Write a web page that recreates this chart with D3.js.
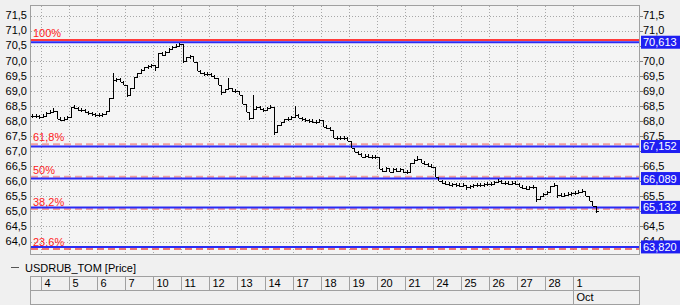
<!DOCTYPE html>
<html><head><meta charset="utf-8">
<script src="https://cdn.jsdelivr.net/npm/d3@7"></script>
<style>
html,body{margin:0;padding:0;background:#f0f0f0;}
svg{display:block;font-family:"Liberation Sans",Arial,sans-serif;}
</style></head><body>
<svg id="c" width="680" height="305"></svg>
<script>
// ---------- DATA ----------
const dayLabels = ["4","5","6","7","10","11","12","13","14","17","18","19","20","21","24","25","26","27","28","1"];
const monthLabels = [{day:19, text:"Oct"}];
const yTickValues = [64,64.5,65,65.5,66,66.5,67,67.5,68,68.5,69,69.5,70,70.5,71,71.5];
const seriesName = "USDRUB_TOM [Price]";
// closes of intraday bars for the partial day before Sep 4
const preCloses = [68.16, 68.15, 68.14];
// closes of intraday bars per trading day
const dayCloses = [
 [68.18, 68.28, 68.30, 68.32, 68.06, 68.04, 68.08, 68.12],
 [68.48, 68.42, 68.36, 68.38, 68.30, 68.26, 68.22, 68.20],
 [68.20, 68.22, 68.32, 68.75, 69.35, 69.40, 69.30, 69.20],
 [68.85, 69.10, 69.45, 69.60, 69.70, 69.78, 69.82, 69.85],
 [69.78, 70.25, 70.20, 70.30, 70.40, 70.45, 70.50, 70.55],
 [70.00, 70.12, 70.15, 69.95, 69.65, 69.58, 69.55, 69.55],
 [69.50, 69.42, 69.20, 68.95, 69.05, 69.10, 68.98, 69.00],
 [68.85, 68.55, 68.30, 68.10, 68.40, 68.45, 68.40, 68.35],
 [68.42, 68.48, 67.65, 67.85, 67.98, 68.05, 68.08, 68.12],
 [68.20, 68.10, 68.05, 68.02, 68.00, 67.98, 67.98, 68.02],
 [67.80, 67.78, 67.70, 67.45, 67.42, 67.45, 67.42, 67.35],
 [67.10, 66.98, 66.90, 66.82, 66.85, 66.80, 66.82, 66.80],
 [66.40, 66.35, 66.45, 66.32, 66.42, 66.35, 66.40, 66.30],
 [66.32, 66.60, 66.72, 66.75, 66.62, 66.58, 66.52, 66.48],
 [66.15, 66.00, 65.95, 65.92, 65.88, 65.90, 65.88, 65.85],
 [65.88, 65.80, 65.85, 65.86, 65.88, 65.87, 65.90, 65.90],
 [65.92, 65.98, 66.00, 65.95, 65.95, 65.92, 65.95, 65.90],
 [65.82, 65.78, 65.75, 65.82, 65.80, 65.40, 65.50, 65.58],
 [65.65, 65.85, 65.88, 65.55, 65.52, 65.55, 65.58, 65.60],
 [65.62, 65.64, 65.66, 65.50, 65.35, 65.18, 65.00]
];
// wick extremes [day, bar, value]
const spikes = [
 [0,3,68.42],[2,3,68.35],[2,4,69.60],[3,0,68.78],[4,0,69.65],[5,0,69.92],
 [6,3,68.85],[6,5,69.42],[7,3,68.02],[7,4,68.85],[8,2,67.52],[9,0,68.50],
 [13,3,66.82],[15,1,65.70],[16,2,66.05],[17,5,65.30],[18,2,65.92],[18,3,65.45],
 [19,2,65.70],[19,6,64.95]
];
// Fibonacci levels (red) and horizontal price levels (blue)
const fibLabels = ["100%","61,8%","50%","38,2%","23,6%"];
const fibValues = [70.687, 67.225, 66.15, 65.079, 63.754];
const levelValues = [70.613, 67.152, 66.089, 65.132, 63.820];
const levelLabels = ["70,613","67,152","66,089","65,132","63,820"];

// ---------- CHART ----------
const svg = d3.select("#c");
const L = 30, R = 640, T = 5, B = 255;
const x = d3.scaleLinear().domain([-0.393, 21.393]).range([L, R]);
const y = d3.scaleLinear().domain([64, 71.5]).range([241.5, 15.5]);
const barsPerDay = 8;
const fmt = v => d3.format(".1f")(v).replace(".", ",");

svg.append("rect").attr("x", L+0.5).attr("y", T+0.5).attr("width", R-L-1).attr("height", B-T-1)
  .attr("fill", "#f4f4f4").attr("stroke", "#a0a0a0");

// gridlines
const grid = svg.append("g").attr("stroke", "#a8a8a8").attr("stroke-dasharray", "1,2").attr("shape-rendering","crispEdges");
yTickValues.forEach(v => {
  const yy = Math.round(y(v)) + 0.5;
  grid.append("line").attr("x1", L+1).attr("x2", R-1).attr("y1", yy).attr("y2", yy);
});
dayLabels.forEach((d, i) => {
  const xx = Math.round(x(i)) + 0.5;
  grid.append("line").attr("x1", xx).attr("x2", xx).attr("y1", T+1).attr("y2", B-1);
});

// left axis labels
const la = svg.append("g").attr("font-size", 11).attr("fill", "#000");
yTickValues.forEach(v => {
  la.append("text").attr("x", 27).attr("y", y(v)).attr("dy", "0.35em").attr("text-anchor", "end").text(fmt(v));
});
// right axis labels & ticks (labels hidden behind a level box are not drawn)
const ra = svg.append("g").attr("font-size", 11).attr("fill", "#000");
yTickValues.forEach(v => {
  const yy = Math.round(y(v)) + 0.5;
  ra.append("line").attr("x1", R).attr("x2", R+3).attr("y1", yy).attr("y2", yy).attr("stroke", "#808080");
  const covered = levelValues.some(lv => Math.abs(y(lv) - y(v)) < 5);
  if (!covered) ra.append("text").attr("x", 643).attr("y", y(v)).attr("dy", "0.35em").text(fmt(v));
});

// fib lines
const fibG = svg.append("g");
fibValues.forEach((v, i) => {
  const yy = y(v);
  fibG.append("line").attr("x1", L+1).attr("x2", R-1).attr("y1", yy).attr("y2", yy)
    .attr("stroke", i === 0 ? "#ff3b3b" : (i === 4 ? "#e84a4a" : "#f2a0a0"))
    .attr("stroke-width", i === 4 ? 1.5 : 2)
    .attr("stroke-dasharray", i === 0 ? null : "7,4");
  fibG.append("text").attr("x", 33).attr("y", yy - 3).attr("font-size", 11).attr("fill", "#ff2222").text(fibLabels[i]);
});
// blue levels
levelValues.forEach(v => {
  svg.append("line").attr("x1", L+1).attr("x2", R-1).attr("y1", y(v)).attr("y2", y(v))
    .attr("stroke", "#2b2bf5").attr("stroke-width", 2);
});

// price bars
const bars = [];
preCloses.forEach((c, k) => bars.push({t: -0.375 + (k + 0.5) / barsPerDay, c, d: -1, k}));
dayCloses.forEach((arr, d) => arr.forEach((c, k) => bars.push({t: d + (k + 0.5) / barsPerDay, c, d, k})));
bars.forEach((b, i) => { b.o = i === 0 ? b.c : bars[i-1].c; b.hi = Math.max(b.o, b.c); b.lo = Math.min(b.o, b.c); });
spikes.forEach(([d, k, v]) => {
  const b = bars.find(e => e.d === d && e.k === k);
  if (b) { b.hi = Math.max(b.hi, v); b.lo = Math.min(b.lo, v); }
});
const bg = svg.append("g").attr("stroke", "#000").attr("stroke-width", 1).attr("shape-rendering", "crispEdges");
bars.forEach(b => {
  const xx = Math.round(x(b.t)) + 0.5;
  let y1 = y(b.hi), y2 = y(b.lo);
  if (y2 - y1 < 4) { const m = (y1 + y2) / 2; y1 = m - 2; y2 = m + 2; }
  bg.append("line").attr("x1", xx).attr("x2", xx).attr("y1", Math.round(y1)).attr("y2", Math.round(y2));
  bg.append("line").attr("x1", xx - 1.5).attr("x2", xx).attr("y1", Math.round(y(b.o)) + 0.5).attr("y2", Math.round(y(b.o)) + 0.5);
  bg.append("line").attr("x1", xx).attr("x2", xx + 2).attr("y1", Math.round(y(b.c)) + 0.5).attr("y2", Math.round(y(b.c)) + 0.5);
});

// level value boxes on right
levelValues.forEach((v, i) => {
  const yy = y(v);
  svg.append("rect").attr("x", 641).attr("y", yy - 6.5).attr("width", 39).attr("height", 13).attr("fill", "#1f1ff2");
  svg.append("text").attr("x", 643).attr("y", yy).attr("dy", "0.36em").attr("font-size", 11).attr("fill", "#fff").text(levelLabels[i]);
});

// legend
svg.append("line").attr("x1", 11).attr("x2", 19).attr("y1", 267.5).attr("y2", 267.5).attr("stroke", "#555");
svg.append("text").attr("x", 25).attr("y", 272).attr("font-size", 11).attr("fill", "#000").text(seriesName);

// x axis table
const ax = svg.append("g").attr("stroke", "#a0a0a0").attr("shape-rendering", "crispEdges");
[276.5, 290.5, 304.5].forEach(yy => ax.append("line").attr("x1", L).attr("x2", 640).attr("y1", yy).attr("y2", yy));
[L + 0.5, 639.5].forEach(xx => ax.append("line").attr("x1", xx).attr("x2", xx).attr("y1", 276).attr("y2", 305));
dayLabels.forEach((d, i) => {
  const xx = Math.round(x(i)) + 0.5;
  ax.append("line").attr("x1", xx).attr("x2", xx).attr("y1", 276).attr("y2", 290);
  svg.append("text").attr("x", xx + 3).attr("y", 287).attr("font-size", 11).attr("fill", "#000").text(d);
});
monthLabels.forEach(m => {
  const xx = Math.round(x(m.day)) + 0.5;
  ax.append("line").attr("x1", xx).attr("x2", xx).attr("y1", 290).attr("y2", 305);
  svg.append("text").attr("x", xx + 3).attr("y", 301).attr("font-size", 11).attr("fill", "#000").text(m.text);
});
</script></body></html>
